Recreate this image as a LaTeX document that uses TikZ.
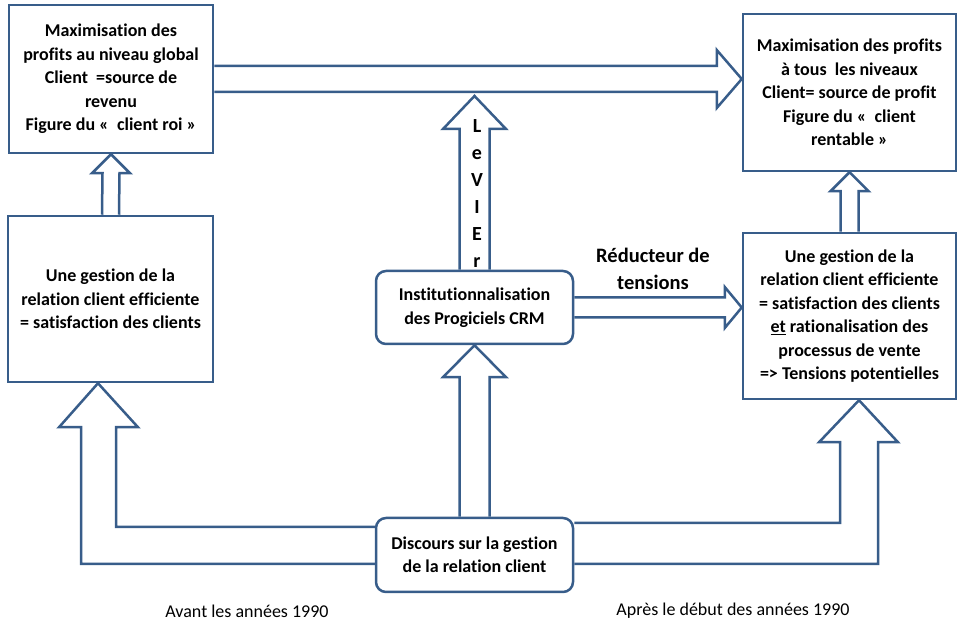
\documentclass[tikz,border=0pt]{standalone}
\usepackage{fontspec}
\setmainfont{Carlito}[Ligatures={NoCommon}]
\usepackage{xcolor}
\definecolor{lblue}{RGB}{56,93,138}
\usetikzlibrary{positioning, calc, backgrounds}
\tikzstyle{Box} = [
draw=lblue,
line width=2.5pt,
fill=white,
align=center,
inner sep=0pt,
font=\bfseries\fontsize{18}{23.5}\selectfont]
\tikzstyle{RBox} = [Box, rounded corners=10pt]
\tikzstyle{Block} = [
draw=lblue,
line width=2.5pt,
fill=white,
line join=miter]
\tikzstyle{Note} = [
font=\fontsize{18}{20}\selectfont,
inner sep=0pt]

\begin{document}
\begin{tikzpicture}[x=1pt, y=1pt]
    \useasboundingbox (0,0) rectangle (958,623);

    \node [Box, minimum width=204pt, minimum height=148pt] (1) at (111,544)
        {Maximisation des\\profits au niveau global\\Client\ \ =source de\\revenu\\Figure du «\ \ client roi »};
    \node [Box, minimum width=213pt, minimum height=157pt] (2) at (849.5,530.5)
        {Maximisation des profits\\à tous\ \ les niveaux\\Client= source de profit\\Figure du «\ \ client\\rentable »};
    \node [Box, minimum width=205pt, minimum height=166pt] (3) at (110.5,324)
        {Une gestion de la\\relation client efficiente\\= satisfaction des clients};
    \node [Box, minimum width=213pt, minimum height=166pt] (4) at (849.5,307)
        {Une gestion de la\\relation client efficiente\\= satisfaction des clients\\\underline{et} rationalisation des\\processus de vente\\=> Tensions potentielles};
    \node [RBox, minimum width=197pt, minimum height=73pt] (5) at (474.5,315.5)
        {Institutionnalisation\\des Progiciels CRM};
    \node [RBox, minimum width=197pt, minimum height=74pt] (6) at (474.5,68)
        {Discours sur la gestion\\de la relation client};

    \coordinate (t1) at (1.east -| 2.west);
    \coordinate (t2) at ($(5.north |- 1.east)+(0,-17)$);
    \coordinate (t3) at (5.east -| 4.west);
    \coordinate (t4) at ($(3.south)+(-12.5,0)$);
    \coordinate (t5) at ($(4.south)+(9.5,0)$);

    \begin{scope}[on background layer]
    \draw[Block] ($(1.east)+(0,13)$) -- ($(t1)+(-25,13)$) -- ($(t1)+(-25,29)$) -- (t1)
        -- ($(t1)+(-25,-29)$) -- ($(t1)+(-25,-13)$) -- ($(1.east)+(0,-13)$);
    \draw[Block] ($(3.north)+(-8.5,0)$) -- ($(1.south)+(-8.5,-19)$) -- ($(1.south)+(-19,-19)$) -- (1.south)
        -- ($(1.south)+(19,-19)$) -- ($(1.south)+(8.5,-19)$) -- ($(3.north)+(8.5,0)$);
    \draw[Block] ($(4.north)+(-9,0)$) -- ($(2.south)+(-9,-19)$) -- ($(2.south)+(-19,-19)$) -- (2.south)
        -- ($(2.south)+(19,-19)$) -- ($(2.south)+(9,-19)$) -- ($(4.north)+(9,0)$);
    \draw[Block] ($(5.north)+(-15,0)$) -- ($(t2)+(-15,-33)$) -- ($(t2)+(-31.5,-33)$) -- (t2)
        -- ($(t2)+(31.5,-33)$) -- ($(t2)+(15,-33)$) -- ($(5.north)+(15,0)$);
    \draw[Block] ($(6.north)+(-15,0)$) -- ($(5.south)+(-15,-32)$) -- ($(5.south)+(-31.5,-32)$) -- (5.south)
        -- ($(5.south)+(31.5,-32)$) -- ($(5.south)+(15,-32)$) -- ($(6.north)+(15,0)$);
    \draw[Block] ($(5.east)+(0,10)$) -- ($(t3)+(-17,10)$) -- ($(t3)+(-17,20.5)$) -- (t3)
        -- ($(t3)+(-17,-20.5)$) -- ($(t3)+(-17,-10)$) -- ($(5.east)+(0,-10)$);
    \draw[Block] ($(6.west)+(0,28)$) -| ($(t4)+(18,-44)$) -- ($(t4)+(40,-44)$) -- (t4)
        -- ($(t4)+(-39,-44)$) -- ($(t4)+(-17,-44)$) |- ($(6.west)+(0,-9)$);
    \draw[Block] ($(6.east)+(0,32)$) -| ($(t5)+(-19,-42)$) -- ($(t5)+(-40,-42)$) -- (t5)
        -- ($(t5)+(39,-42)$) -- ($(t5)+(19,-42)$) |- ($(6.east)+(0,-9)$);
    \node [align=center, inner sep=0pt, font=\bfseries\fontsize{20}{27}\selectfont] (7)
        at ($(5.north)+(2.5,76)$) {L\\e\\V\\I\\E\\r};
    \end{scope}

    \node [align=center, font=\bfseries\fontsize{20.5}{27}\selectfont] (8) at (653,354) {Réducteur de\\tensions};
    \node [Note] (9) at (247,12) {Avant les années 1990};
    \node [Note] (10) at (733,12) {Après le début des années 1990};
\end{tikzpicture}
\end{document}
